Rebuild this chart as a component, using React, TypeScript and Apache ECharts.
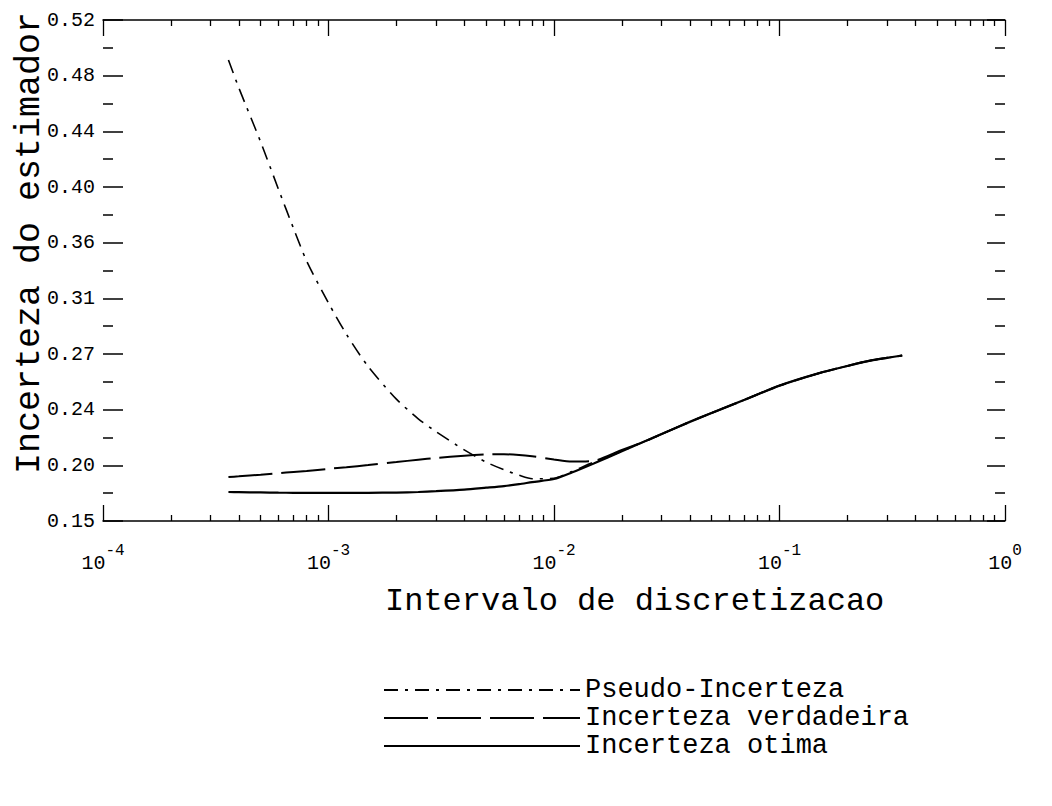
import React, { useEffect, useRef } from "react";
import * as echarts from "echarts";

// ---- data ----
const xValues = [
  3.6e-4, 4e-4, 5e-4, 6e-4, 7e-4, 8e-4, 1e-3, 1.2e-3, 1.5e-3, 2e-3, 2.5e-3, 3e-3,
  4e-3, 5e-3, 6e-3, 7e-3, 8e-3, 1e-2, 1.2e-2, 1.5e-2, 2e-2, 2.5e-2, 3e-2, 4e-2,
  5e-2, 7e-2, 0.1, 0.15, 0.2, 0.25, 0.3, 0.35,
];
const pseudoIncerteza = [
  0.4905, 0.47, 0.43, 0.395, 0.366, 0.342, 0.311, 0.288, 0.264, 0.24, 0.2255, 0.216,
  0.2025, 0.1935, 0.1878, 0.1838, 0.1812, 0.1815, 0.1865, 0.1935, 0.2015, 0.2085, 0.2142, 0.2232,
  0.2298, 0.2395, 0.25, 0.2592, 0.2645, 0.2683, 0.2705, 0.2722,
];
const incertezaVerdadeira = [
  0.1825, 0.183, 0.1842, 0.1853, 0.1862, 0.187, 0.1885, 0.1897, 0.1913, 0.1935, 0.1953, 0.1966,
  0.1982, 0.1991, 0.1993, 0.1988, 0.1978, 0.1955, 0.194, 0.1945, 0.2025, 0.2085, 0.2142, 0.2232,
  0.2298, 0.2395, 0.25, 0.2592, 0.2645, 0.2683, 0.2705, 0.2722,
];
const incertezaOtima = [
  0.1714, 0.1713, 0.1711, 0.1709, 0.1708, 0.1707, 0.1707, 0.1707, 0.1708, 0.171, 0.1714, 0.172,
  0.1732, 0.1746, 0.1758, 0.1772, 0.1787, 0.181, 0.1858, 0.1925, 0.2015, 0.2085, 0.2142, 0.2232,
  0.2298, 0.2395, 0.25, 0.2592, 0.2645, 0.2683, 0.2705, 0.2722,
];
const seriesNames = ["Pseudo-Incerteza", "Incerteza verdadeira", "Incerteza otima"];
const yTickLabels = ["0.15", "0.20", "0.24", "0.27", "0.31", "0.36", "0.40", "0.44", "0.48", "0.52"];
const Y_MIN = 0.15;
const Y_MAX = 0.52;
const X_MIN = 1e-4;
const X_MAX = 1;
const xDecadeExps = [-4, -3, -2, -1, 0];
const xMinorMultipliers = [2, 3, 4, 5, 6, 7, 8, 9];
const xTitle = "Intervalo de discretizacao";
const yTitle = "Incerteza do estimador";

// ---- derived tick positions ----
const yStep = (Y_MAX - Y_MIN) / (yTickLabels.length - 1);
const yMajor = yTickLabels.map((_, i) => Y_MIN + i * yStep);
const yMinor = yTickLabels.slice(1).map((_, i) => Y_MIN + (i + 0.5) * yStep);
const xMajor = xDecadeExps.map((e) => Math.pow(10, e));
const xMinor: number[] = [];
xDecadeExps.slice(0, -1).forEach((e) =>
  xMinorMultipliers.forEach((m) => xMinor.push(m * Math.pow(10, e)))
);

const FONT = "Liberation Mono";
const BLACK = "#000";

export default function App() {
  const ref = useRef<HTMLDivElement>(null);
  useEffect(() => {
    if (!ref.current) return;
    const chart = echarts.init(ref.current, null, { renderer: "svg" });
    const axisLine = { lineStyle: { color: BLACK, width: 1.5 } };
    const baseX = {
      type: "log" as const,
      logBase: 10,
      min: X_MIN,
      max: X_MAX,
      gridIndex: 0,
      splitLine: { show: false },
      minorTick: { show: false },
    };
    const baseY = {
      type: "value" as const,
      min: Y_MIN,
      max: Y_MAX,
      gridIndex: 0,
      splitLine: { show: false },
      axisLine: { show: false },
    };
    const labelFor = (v: number) => {
      const i = Math.round((v - Y_MIN) / yStep);
      return yTickLabels[i] ?? "";
    };
    const data = (arr: number[]) => xValues.map((x, i) => [x, arr[i]]);
    const option: any = {
      animation: false,
      backgroundColor: "#fff",
      grid: { left: 103, right: 47, top: 20, bottom: 285, containLabel: false },
      xAxis: [
        {
          ...baseX,
          position: "bottom",
          axisLine: { show: true, ...axisLine },
          axisTick: { show: true, inside: true, length: 16, customValues: xMajor, lineStyle: { color: BLACK, width: 1.3 } },
          axisLabel: {
            show: true,
            customValues: xMajor,
            margin: 22,
            formatter: (v: number) => {
              const e = Math.round(Math.log10(v));
              return `{b|10}{s|${e}}`;
            },
            rich: {
              b: { fontFamily: FONT, fontSize: 20, color: BLACK, padding: [10, 0, 0, 0], verticalAlign: "bottom" },
              s: { fontFamily: FONT, fontSize: 16, color: BLACK, verticalAlign: "top" },
            },
          },
        },
        {
          ...baseX,
          position: "bottom",
          axisLine: { show: false },
          axisTick: { show: true, inside: true, length: 6, customValues: xMinor, lineStyle: { color: BLACK, width: 1.3 } },
          axisLabel: { show: false },
        },
        {
          ...baseX,
          position: "top",
          axisLine: { show: true, ...axisLine },
          axisTick: { show: true, inside: true, length: 16, customValues: xMajor, lineStyle: { color: BLACK, width: 1.3 } },
          axisLabel: { show: false },
        },
        {
          ...baseX,
          position: "top",
          axisLine: { show: false },
          axisTick: { show: true, inside: true, length: 6, customValues: xMinor, lineStyle: { color: BLACK, width: 1.3 } },
          axisLabel: { show: false },
        },
      ],
      yAxis: [
        {
          ...baseY,
          position: "left",
          axisTick: { show: true, inside: true, length: 20, customValues: yMajor, lineStyle: { color: BLACK, width: 1.5 } },
          axisLabel: {
            show: true,
            customValues: yMajor,
            formatter: labelFor,
            margin: 8,
            fontFamily: FONT,
            fontSize: 20,
            color: BLACK,
          },
        },
        {
          ...baseY,
          position: "left",
          axisTick: { show: true, inside: true, length: 10, customValues: yMinor, lineStyle: { color: BLACK, width: 1.5 } },
          axisLabel: { show: false },
        },
        {
          ...baseY,
          position: "right",
          axisTick: { show: true, inside: true, length: 18, customValues: yMajor, lineStyle: { color: BLACK, width: 1.5 } },
          axisLabel: { show: false },
        },
        {
          ...baseY,
          position: "right",
          axisTick: { show: true, inside: true, length: 10, customValues: yMinor, lineStyle: { color: BLACK, width: 1.5 } },
          axisLabel: { show: false },
        },
      ],
      legend: {
        orient: "vertical",
        left: 383,
        top: 676,
        itemWidth: 196,
        itemHeight: 14,
        itemGap: 0,
        padding: 0,
        selectedMode: false,
        data: seriesNames,
        itemStyle: { opacity: 0 },
        textStyle: { fontFamily: FONT, fontSize: 27, color: BLACK, lineHeight: 28 },
      },
      graphic: [
        {
          type: "text",
          left: 385,
          top: 585,
          style: { text: xTitle, fontFamily: FONT, fontSize: 32, fill: BLACK },
        },
        {
          type: "text",
          x: 30,
          y: 243,
          rotation: Math.PI / 2,
          style: {
            text: yTitle,
            fontFamily: FONT,
            fontSize: 35,
            fill: BLACK,
            align: "center",
            verticalAlign: "middle",
          },
        },
      ],
      series: [
        {
          name: seriesNames[0],
          type: "line",
          data: data(pseudoIncerteza),
          symbol: "none",
          smooth: 0.25,
          lineStyle: { color: BLACK, width: 1.6, type: [14, 7, 3, 7] },
          itemStyle: { color: BLACK },
        },
        {
          name: seriesNames[1],
          type: "line",
          data: data(incertezaVerdadeira),
          symbol: "none",
          smooth: 0.25,
          lineStyle: { color: BLACK, width: 2, type: [44, 9] },
          itemStyle: { color: BLACK },
        },
        {
          name: seriesNames[2],
          type: "line",
          data: data(incertezaOtima),
          symbol: "none",
          smooth: 0.25,
          lineStyle: { color: BLACK, width: 2.2, type: "solid" },
          itemStyle: { color: BLACK },
        },
      ],
    };
    chart.setOption(option);
    return () => chart.dispose();
  }, []);
  return (
    <div
      ref={ref}
      style={{ position: "fixed", left: 0, top: 0, width: 1052, height: 806, background: "#fff" }}
    />
  );
}
